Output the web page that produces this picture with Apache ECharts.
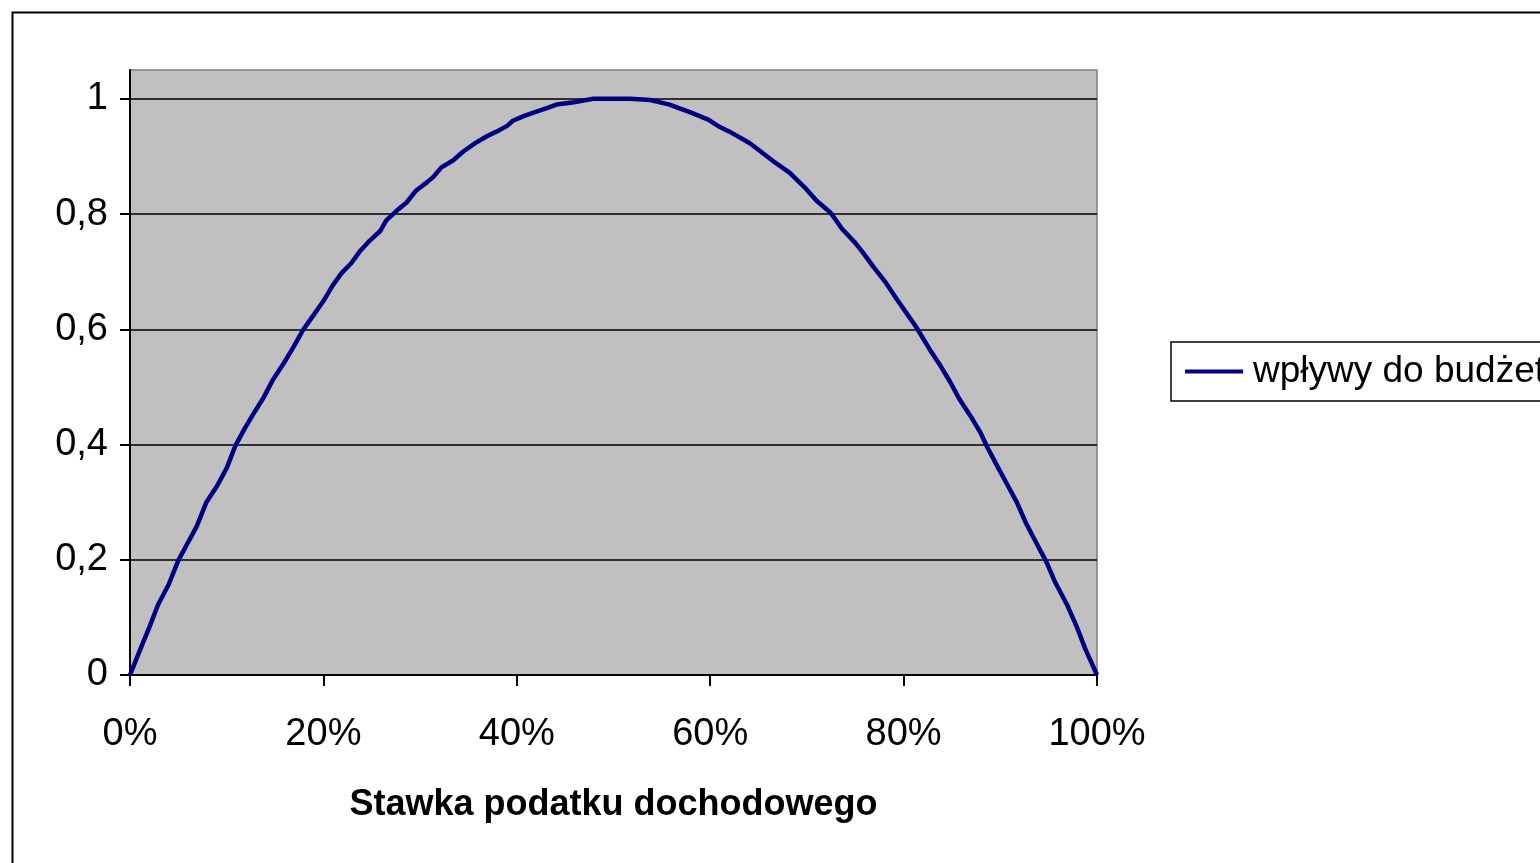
<!DOCTYPE html>
<html>
<head>
<meta charset="utf-8">
<script src="https://cdn.jsdelivr.net/npm/echarts@6/dist/echarts.min.js"></script>
<style>html,body{margin:0;padding:0;background:#fff;}#c{width:1540px;height:863px;}</style>
</head>
<body>
<div id="c"></div>
<script>
// Tax rate (%) and budget revenue
const taxRate = [0, 1.0, 2.1, 2.9, 4.0, 5.0, 5.9, 6.9, 7.9, 9.0, 10.0, 10.9, 11.9, 12.9, 13.8, 14.8, 15.9, 16.9, 17.9, 19.0, 20.0, 21.0, 21.9, 22.9, 23.8, 24.8, 25.9, 26.5, 27.6, 28.6, 29.6, 30.7, 31.4, 32.2, 33.4, 34.5, 35.7, 36.9, 37.9, 39.0, 39.6, 40.7, 42.1, 43.1, 44.1, 45.9, 47.9, 50.0, 51.7, 53.8, 55.8, 56.9, 57.9, 59.8, 60.8, 62.0, 64.1, 66.5, 68.2, 69.1, 69.9, 71.0, 72.4, 72.9, 73.6, 75.0, 75.8, 76.9, 78.2, 79.3, 80.3, 81.3, 82.7, 83.8, 84.8, 85.8, 86.9, 87.9, 88.7, 89.8, 90.7, 91.7, 92.7, 93.8, 94.8, 95.7, 96.9, 97.9, 98.8, 100];
const revenue = [0, 0.042, 0.087, 0.122, 0.157, 0.199, 0.227, 0.258, 0.300, 0.328, 0.359, 0.398, 0.429, 0.457, 0.481, 0.513, 0.541, 0.569, 0.599, 0.625, 0.649, 0.677, 0.698, 0.715, 0.736, 0.754, 0.771, 0.789, 0.806, 0.820, 0.841, 0.855, 0.865, 0.881, 0.893, 0.909, 0.923, 0.935, 0.943, 0.953, 0.962, 0.970, 0.978, 0.984, 0.990, 0.994, 1.0, 1.0, 1.0, 0.998, 0.990, 0.983, 0.977, 0.964, 0.953, 0.943, 0.923, 0.892, 0.872, 0.857, 0.844, 0.823, 0.803, 0.792, 0.775, 0.750, 0.733, 0.708, 0.680, 0.652, 0.628, 0.604, 0.565, 0.537, 0.509, 0.478, 0.450, 0.422, 0.394, 0.359, 0.331, 0.300, 0.262, 0.227, 0.195, 0.160, 0.122, 0.084, 0.045, 0];
const yTicks = [0, 0.2, 0.4, 0.6, 0.8, 1];
const xTicks = [0, 20, 40, 60, 80, 100];
const seriesName = 'wpływy do budżetu';
const xAxisTitle = 'Stawka podatku dochodowego';

const data = taxRate.map((x, i) => [x, revenue[i]]);
const font = 'Liberation Sans, Arial, sans-serif';

const chart = echarts.init(document.getElementById('c'));
chart.setOption({
  animation: false,
  backgroundColor: '#fff',
  graphic: [{
    type: 'rect', left: 10, top: 10, z: -10,
    shape: { width: 1600, height: 900 },
    style: { fill: 'none', stroke: '#000', lineWidth: 2 }
  }],
  grid: {
    left: 130, top: 70, width: 967, height: 605,
    show: true, backgroundColor: '#C0C0C0', borderColor: '#808080', borderWidth: 1.5
  },
  legend: {
    left: 1171, top: 342,
    padding: [11, 40, 11, 14],
    borderColor: '#000', borderWidth: 1.5, backgroundColor: '#fff',
    icon: 'rect', itemWidth: 58, itemHeight: 4,
    textStyle: { fontFamily: font, fontSize: 37, color: '#000', padding: [0, 0, 0, 5] },
    data: [seriesName]
  },
  xAxis: {
    type: 'value', min: 0, max: 100, interval: 20,
    name: xAxisTitle, nameLocation: 'middle', nameGap: 112,
    nameTextStyle: { fontFamily: font, fontSize: 36, fontWeight: 'bold', color: '#000' },
    axisLine: { show: true, lineStyle: { color: '#000', width: 2 } },
    axisTick: { show: true, length: 11, customValues: xTicks, lineStyle: { color: '#000', width: 2 } },
    axisLabel: { margin: 41, fontFamily: font, fontSize: 38, color: '#000', customValues: xTicks, formatter: v => v + '%' },
    splitLine: { show: false }
  },
  yAxis: {
    type: 'value', min: 0, max: 1.05, interval: 0.2,
    axisLine: { show: true, lineStyle: { color: '#000', width: 2 } },
    axisTick: { show: true, length: 10, customValues: yTicks, lineStyle: { color: '#000', width: 2 } },
    axisLabel: {
      margin: 22, fontFamily: font, fontSize: 38, color: '#000',
      customValues: yTicks,
      formatter: v => v > 1.01 ? '' : String(+v.toFixed(1)).replace('.', ',')
    },
    splitLine: { show: true, lineStyle: { color: '#000', width: 1.5 } }
  },
  series: [{
    name: seriesName, type: 'line', data: data,
    showSymbol: false, symbol: 'none',
    lineStyle: { color: '#000080', width: 4.5 },
    itemStyle: { color: '#000080' }
  }]
});
</script>
</body>
</html>
